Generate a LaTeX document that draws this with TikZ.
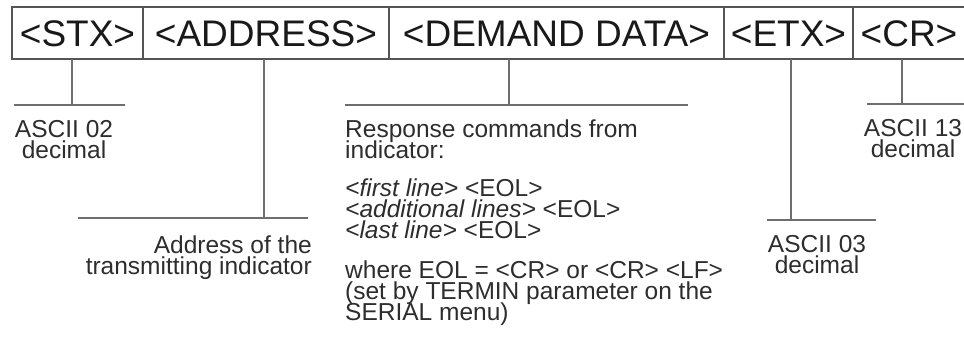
\documentclass[tikz,border=0pt]{standalone}
\usepackage{fontspec}
\setmainfont{Liberation Sans}
\definecolor{framegray}{RGB}{85,85,85}
\definecolor{leadgray}{RGB}{110,110,110}
\definecolor{inkgray}{RGB}{45,45,45}
\usetikzlibrary{positioning}

\begin{document}
\begin{tikzpicture}[x=1pt,y=-1pt,
    cell/.style={draw=framegray,line width=1.2pt,minimum height=52pt,inner sep=0pt,outer sep=0pt,
      text=black!90,font=\fontsize{37}{40}\selectfont,text height=26.5pt,text depth=0pt},
    note/.style={inner sep=0pt,text=inkgray,font=\fontsize{24.5}{21}\selectfont,
      execute at begin node={\lineskiplimit=-100pt}},
    lead/.style={draw=leadgray,line width=1.1pt}]
  \useasboundingbox (0,0) rectangle (964,339);
  % frame
  \node[cell,minimum width=131pt] (stx) at (77.5,33) {<STX>};
  \node[cell,minimum width=246pt,right=0pt of stx] (addr) {<ADDRESS>};
  \node[cell,minimum width=335pt,right=0pt of addr] (dem) {<DEMAND DATA>};
  \node[cell,minimum width=129pt,right=0pt of dem] (etx) {<ETX>};
  \node[cell,minimum width=112pt,right=0pt of etx] (cr) {<CR>};
  % bars and taps
  \coordinate (stxtap) at (72,105);
  \coordinate (stxl) at (14,105);
  \coordinate (stxr) at (125,105);
  \draw[lead] (stx.south -| stxtap) -- (stxtap);
  \draw[lead] (stxl) -- (stxr);
  \coordinate (addrtap) at (264,218);
  \coordinate (addrl) at (78,218);
  \coordinate (addrr) at (308,218);
  \draw[lead] (addr.south -| addrtap) -- (addrtap);
  \draw[lead] (addrl) -- (addrr);
  \coordinate (demtap) at (509,105);
  \coordinate (deml) at (345,105);
  \coordinate (demr) at (688,105);
  \draw[lead] (dem.south -| demtap) -- (demtap);
  \draw[lead] (deml) -- (demr);
  \coordinate (etxtap) at (791,220);
  \coordinate (etxl) at (767,220);
  \coordinate (etxr) at (876,220);
  \draw[lead] (etx.south -| etxtap) -- (etxtap);
  \draw[lead] (etxl) -- (etxr);
  \coordinate (crtap) at (902,104);
  \coordinate (crl) at (867,104);
  \coordinate (crr) at (966,104);
  \draw[lead] (cr.south -| crtap) -- (crtap);
  \draw[lead] (crl) -- (crr);
  % notes
  \node[note,align=center,anchor=north] (stxnote) at (64,120) {ASCII 02\\decimal};
  \node[note,align=right,anchor=north east] (addrnote) at (312,236) {Address of the\\transmitting indicator};
  \node[note,align=left,anchor=north west] (demnote) at (345,120)
    {Response commands from\\indicator:\\[17pt]
     \textit{<first line>} <EOL>\\\textit{<additional lines>} <EOL>\\\textit{<last line>} <EOL>\\[19pt]
     where EOL = <CR> or <CR> <LF>\\(set by TERMIN parameter on the\\SERIAL menu)};
  \node[note,align=center,anchor=north] (etxnote) at (817,235) {ASCII 03\\decimal};
  \node[note,align=center,anchor=north] (crnote) at (913,119) {ASCII 13\\decimal};
\end{tikzpicture}
\end{document}
